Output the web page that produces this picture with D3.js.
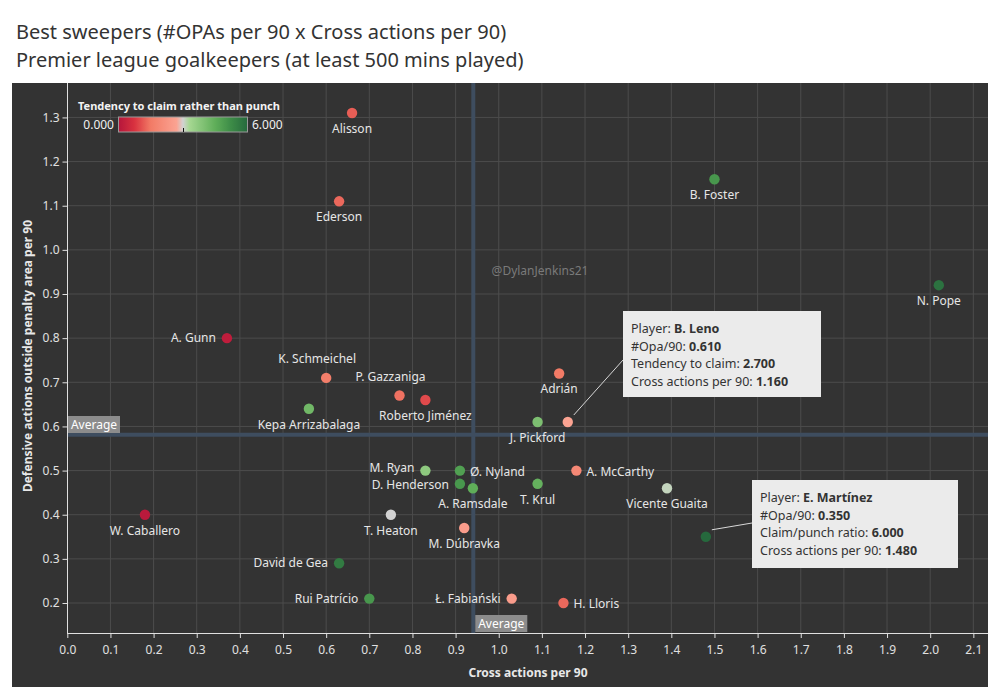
<!DOCTYPE html>
<html><head><meta charset="utf-8">
<script src="https://cdn.jsdelivr.net/npm/d3@7"></script>
<style>
body{margin:0;background:#fff;}
text{font-family:"Noto Sans","Open Sans",sans-serif;}
</style></head>
<body><svg id="c" width="1000" height="700"></svg>
<script>
const players = ["Alisson","Ederson","B. Foster","N. Pope","A. Gunn","K. Schmeichel","P. Gazzaniga","Roberto Jiménez","Adrián","Kepa Arrizabalaga","J. Pickford","B. Leno","M. Ryan","Ø. Nyland","D. Henderson","A. Ramsdale","T. Krul","A. McCarthy","Vicente Guaita","E. Martínez","W. Caballero","T. Heaton","M. Dúbravka","David de Gea","Rui Patrício","Ł. Fabiański","H. Lloris"];
const crossActions = [0.66,0.63,1.50,2.02,0.37,0.60,0.77,0.83,1.14,0.56,1.09,1.16,0.83,0.91,0.91,0.94,1.09,1.18,1.39,1.48,0.18,0.75,0.92,0.63,0.70,1.03,1.15];
const opas = [1.31,1.11,1.16,0.92,0.80,0.71,0.67,0.66,0.72,0.64,0.61,0.61,0.50,0.50,0.47,0.46,0.47,0.50,0.46,0.35,0.40,0.40,0.37,0.29,0.21,0.21,0.20];
const claimRatio = [1.2,1.3,5.0,5.8,0.2,1.6,1.4,1.0,1.5,4.2,4.0,2.7,3.7,4.8,5.0,4.5,4.4,1.9,3.1,6.0,0.1,3.0,2.5,5.6,5.0,2.5,1.3];
// label placement: b=below, a=above, l=left, r=right, n=none
const labelPos = ["b","b","b","b","l","a","a","b","b","b","b","n","l","r","l","b","b","r","b","n","b","b","b","l","l","l","r"];
const xTicks = d3.range(0,22).map(i=>i/10);
const yTicks = d3.range(2,14).map(i=>i/10);
const avgCross = 0.941, avgOpa = 0.581;
const colorDomain = [0,0.75,1.5,2.7,3,3.3,4.5,5.25,6];
const colorStops = ["#b5163b","#d9323f","#f27b66","#fba392","#d2d2d2","#a6d792","#5fae59","#3c8b47","#26693d"];

const svg = d3.select("#c");
svg.append("text").attr("x",16).attr("y",39).attr("font-size",20).attr("fill","#333").text("Best sweepers (#OPAs per 90 x Cross actions per 90)");
svg.append("text").attr("x",16).attr("y",67).attr("font-size",20).attr("fill","#333").text("Premier league goalkeepers (at least 500 mins played)");

svg.append("rect").attr("x",12).attr("y",83).attr("width",976).attr("height",604).attr("fill","#333333");

const x = d3.scaleLinear().domain([0,2.134]).range([67.3,988]);
const y = d3.scaleLinear().domain([0,1.378]).range([691.3,83]);
const color = d3.scaleLinear().domain(colorDomain).range(colorStops);

// grid
svg.append("g").selectAll("line").data(xTicks.slice(1)).join("line")
 .attr("x1",d=>x(d)).attr("x2",d=>x(d)).attr("y1",83).attr("y2",633).attr("stroke","#4c4c4c").attr("stroke-width",1);
svg.append("g").selectAll("line").data(yTicks).join("line")
 .attr("x1",67).attr("x2",988).attr("y1",d=>y(d)).attr("y2",d=>y(d)).attr("stroke","#4c4c4c").attr("stroke-width",1);

// average lines
svg.append("line").attr("x1",x(avgCross)).attr("x2",x(avgCross)).attr("y1",83).attr("y2",633).attr("stroke","#3e4d5f").attr("stroke-width",4);
svg.append("line").attr("x1",67).attr("x2",988).attr("y1",y(avgOpa)).attr("y2",y(avgOpa)).attr("stroke","#3e4d5f").attr("stroke-width",4);

// axes
const xAxis = d3.axisBottom(x).tickValues(xTicks).tickFormat(d3.format(".1f")).tickSize(5).tickSizeOuter(0);
const gx = svg.append("g").attr("transform","translate(0,633)").call(xAxis);
gx.select(".domain").attr("stroke","#e0e0e0").attr("d","M67,0.5H988");
gx.selectAll(".tick line").attr("stroke","#e0e0e0");
gx.selectAll(".tick text").attr("fill","#e0e0e0").attr("font-size",12).attr("dy","1.05em").attr("font-family","Noto Sans");
const yAxis = d3.axisLeft(y).tickValues(yTicks).tickFormat(d3.format(".1f")).tickSize(5).tickSizeOuter(0);
const gy = svg.append("g").attr("transform","translate(67.5,0)").call(yAxis);
gy.select(".domain").attr("stroke","#e0e0e0").attr("d","M0,83V633");
gy.selectAll(".tick line").attr("stroke","#e0e0e0");
gy.selectAll(".tick text").attr("fill","#e0e0e0").attr("font-size",12).attr("font-family","Noto Sans");

svg.append("text").attr("x",528).attr("y",677).attr("text-anchor","middle").attr("font-size",12).attr("font-weight","bold").attr("fill","#e8e8e8").text("Cross actions per 90");
svg.append("text").attr("transform","translate(32,356) rotate(-90)").attr("text-anchor","middle").attr("font-size",12).attr("font-weight","bold").attr("fill","#e8e8e8").text("Defensive actions outside penalty area per 90");

// average labels
function avgLabel(bx,by){
  svg.append("rect").attr("x",bx).attr("y",by).attr("width",52).attr("height",17).attr("fill","#8c8c8c");
  svg.append("text").attr("x",bx+26).attr("y",by+13).attr("text-anchor","middle").attr("font-size",12).attr("fill","#fff").text("Average");
}
avgLabel(68,416);
avgLabel(x(avgCross)+2,615);

// watermark
svg.append("text").attr("x",540).attr("y",275).attr("text-anchor","middle").attr("font-size",12).attr("fill","#7a7a7a").text("@DylanJenkins21");

// points
const idx = d3.range(players.length);
svg.append("g").selectAll("circle").data(idx).join("circle")
 .attr("cx",i=>x(crossActions[i])).attr("cy",i=>y(opas[i])).attr("r",5.2)
 .attr("fill",i=>color(claimRatio[i]));

// labels
const lg = svg.append("g");
idx.forEach(i=>{
  const p = labelPos[i]; if(p==="n") return;
  const cx = x(crossActions[i]), cy = y(opas[i]);
  const t = lg.append("text").attr("font-size",12).attr("fill","#e6e6e6").text(players[i]);
  const nudge = players[i]==="M. Ryan" ? -3 : (players[i]==="D. Henderson" ? 1 : 0);
  if(p==="b") t.attr("x",cx).attr("y",cy+20).attr("text-anchor","middle");
  if(p==="a") t.attr("x",cx-9).attr("y",cy-15).attr("text-anchor","middle");
  if(p==="l") t.attr("x",cx-11).attr("y",cy+4+nudge).attr("text-anchor","end");
  if(p==="r") t.attr("x",cx+10).attr("y",cy+5).attr("text-anchor","start");
});

// legend
svg.append("text").attr("x",78).attr("y",110).attr("font-size",11).attr("font-weight","bold").attr("fill","#f2f2f2").text("Tendency to claim rather than punch");
const defs = svg.append("defs");
const grad = defs.append("linearGradient").attr("id","lg");
d3.range(0,61).forEach(k=>{ grad.append("stop").attr("offset",(k/60*100)+"%").attr("stop-color",color(k/10)); });
svg.append("rect").attr("x",118.5).attr("y",117).attr("width",129).attr("height",15).attr("fill","url(#lg)").attr("stroke","#999").attr("stroke-width",1);
svg.append("line").attr("x1",183.5).attr("x2",183.5).attr("y1",128).attr("y2",132).attr("stroke","#111");
svg.append("text").attr("x",114).attr("y",129).attr("text-anchor","end").attr("font-size",12).attr("fill","#f0f0f0").text("0.000");
svg.append("text").attr("x",252).attr("y",129).attr("font-size",12).attr("fill","#f0f0f0").text("6.000");

// tooltips
function tooltip(i,bx,by,bw,bh,rows,lx1,ly1){
  const cx = x(crossActions[i]), cy = y(opas[i]);
  svg.append("line").attr("x1",cx+6).attr("y1",cy-7).attr("x2",lx1).attr("y2",ly1).attr("stroke","#d8d8d8").attr("stroke-width",1);
  svg.append("rect").attr("x",bx).attr("y",by).attr("width",bw).attr("height",bh).attr("fill","#ebebeb");
  rows.forEach((r,k)=>{
    const t = svg.append("text").attr("x",bx+8).attr("y",by+22+k*17.6).attr("font-size",12.5).attr("fill","#333");
    t.append("tspan").text(r[0]+": ");
    t.append("tspan").attr("font-weight","bold").text(r[1]);
  });
}
const leno = players.indexOf("B. Leno"), mart = players.indexOf("E. Martínez");
tooltip(leno,623,311,198,86,[["Player","B. Leno"],["#Opa/90",opas[leno].toFixed(3)],["Tendency to claim",claimRatio[leno].toFixed(3)],["Cross actions per 90",crossActions[leno].toFixed(3)]],623,360);
tooltip(mart,752,480,206,88,[["Player","E. Martínez"],["#Opa/90",opas[mart].toFixed(3)],["Claim/punch ratio",claimRatio[mart].toFixed(3)],["Cross actions per 90",crossActions[mart].toFixed(3)]],752,523);
</script></body></html>
